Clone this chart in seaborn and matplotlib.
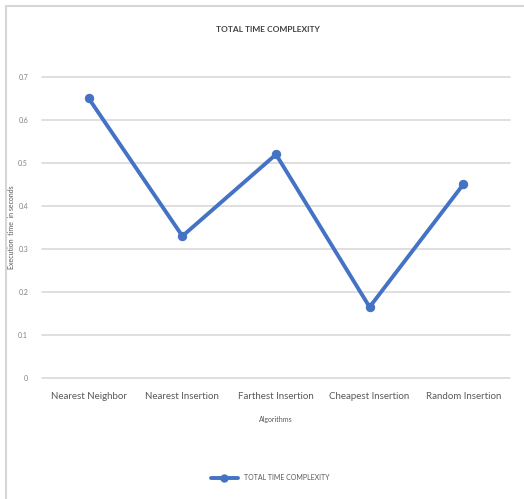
import matplotlib
matplotlib.use("Agg")
import matplotlib.pyplot as plt
from matplotlib.patches import Rectangle
from matplotlib.lines import Line2D
import seaborn as sns
import pandas as pd

# Data
algorithms = ["Nearest Neighbor", "Nearest Insertion", "Farthest Insertion",
              "Cheapest Insertion", "Random Insertion"]
exec_times = [0.65, 0.33, 0.52, 0.165, 0.45]
y_ticks = [0, 0.1, 0.2, 0.3, 0.4, 0.5, 0.6, 0.7]
y_tick_labels = ["0", "0.1", "0.2", "0.3", "0.4", "0.5", "0.6", "0.7"]
series_name = "TOTAL TIME COMPLEXITY"

sns.set_style("white")
plt.rcParams["font.family"] = ["Lato", "DejaVu Sans"]

df = pd.DataFrame({"Algorithm": algorithms, "Time": exec_times})

W, H = 524, 499
fig = plt.figure(figsize=(W / 100, H / 100), dpi=100)
ax = fig.add_axes([42 / W, 1 - 378 / H, 468 / W, 301 / H])

blue = "#4472C4"
sns.lineplot(data=df, x="Algorithm", y="Time", ax=ax, color=blue,
             linewidth=2.8, marker="o", markersize=6,
             markeredgecolor=blue, sort=False, clip_on=False)

ax.set_xlim(-0.5, len(algorithms) - 0.5)
ax.set_ylim(0, 0.7)
ax.set_yticks(y_ticks)
ax.set_yticklabels(y_tick_labels)
ax.yaxis.grid(True, color="#d9d9d9", linewidth=1.2, clip_on=False)
ax.xaxis.grid(False)
for s in ax.spines.values():
    s.set_visible(False)
ax.tick_params(axis="y", length=0, pad=10, labelsize=5, labelcolor="#7f7f7f")
ax.tick_params(axis="x", length=0, pad=10, labelsize=7, labelcolor="#595959")

ax.set_xlabel("Algorithms", fontsize=5, color="#595959")
ax.xaxis.set_label_coords(0.5, -(416 - 378) / 301)
ax.set_ylabel("Execution  time  in seconds", fontsize=5, color="#595959")
ax.yaxis.set_label_coords(-(42 - 15) / 468, 0.5)

fig.text(268 / W, 1 - 30 / H, series_name, ha="center", va="center",
         fontsize=6, color="#404040", fontweight="bold")

handle = Line2D([], [], color=blue, linewidth=2.8, marker="o", markersize=5)
fig.legend(handles=[handle], labels=[series_name], loc="center",
           bbox_to_anchor=(270 / W, 1 - 478 / H), frameon=False,
           fontsize=5, handlelength=4, labelcolor="#595959")

# Light frame around the chart area
fig.patches.append(Rectangle((6 / W, -0.05), 1.1, 1 - 6 / H + 0.05,
                             transform=fig.transFigure, fill=False,
                             edgecolor="#d6d6d6", linewidth=1.5))

fig.savefig("out.png", dpi=100)
